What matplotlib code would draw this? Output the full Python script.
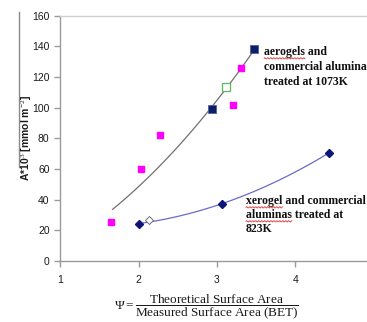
import numpy as np
import matplotlib
matplotlib.use("Agg")
import matplotlib.pyplot as plt

# ---- data ----
aero_navy_x = [2.94, 3.47]
aero_navy_y = [99.3, 138.0]
aero_green_x = [3.12]
aero_green_y = [113.7]
magenta_x = [1.65, 2.03, 2.28, 3.21, 3.31]
magenta_y = [25.5, 60.0, 82.0, 102.0, 126.0]
xero_x = [2.00, 3.07, 4.43]
xero_y = [24.4, 37.5, 70.6]
xero_open_x = [2.13]
xero_open_y = [26.8]
# trend line points
trend1_x = [1.67, 2.00, 2.45, 2.94, 3.47]
trend1_y = [32.7, 50.0, 72.0, 99.5, 138.0]
trend2_x = [2.00, 3.07, 4.43]
trend2_y = [24.4, 37.5, 70.6]

xticks = [1, 2, 3, 4]
yticks = [0, 20, 40, 60, 80, 100, 120, 140, 160]
label1 = ["aerogels and", "commercial aluminas", "treated at 1073K"]
label2 = ["xerogel and commercial", "aluminas treated at", "823K"]
ylabel = r"A*10$^{3}$ [mmol m$^{-2}$]"

plt.rcParams["mathtext.fontset"] = "custom"
plt.rcParams["mathtext.rm"] = "Liberation Serif"
plt.rcParams["mathtext.it"] = "Liberation Serif:italic"
plt.rcParams["font.family"] = ["Liberation Sans", "DejaVu Sans"]

W, H = 367, 322
fig = plt.figure(figsize=(W / 100, H / 100), dpi=100)
ax = fig.add_axes([60 / W, (H - 261) / H, (W - 60) / W, (261 - 15.7) / H])
ax.set_xlim(1, 1 + (W - 60) / 78.5)
ax.set_ylim(0, 160)

# trend curves
c1 = np.polyfit(trend1_x, trend1_y, 2)
xs1 = np.linspace(min(trend1_x), max(trend1_x), 100)
ax.plot(xs1, np.polyval(c1, xs1), color="#707070", lw=0.9, zorder=2)
c2 = np.polyfit(trend2_x, trend2_y, 2)
xs2 = np.linspace(min(trend2_x), max(trend2_x), 100)
ax.plot(xs2, np.polyval(c2, xs2), color="#6a6ac8", lw=0.9, zorder=2)

# markers
ax.plot(magenta_x, magenta_y, "s", color="#ff00ff", ms=5, mec="#ff00ff", ls="none", zorder=3)
ax.plot(aero_navy_x, aero_navy_y, "s", color="#0c1f66", ms=5.2, mec="#5060a0", mew=0.6, ls="none", zorder=3)
ax.plot(aero_green_x, aero_green_y, "s", color="white", ms=5.2, mec="#5cb85c", mew=0.9, ls="none", zorder=3)
ax.plot(xero_x, xero_y, "D", color="#0c1478", ms=4.2, mec="#0c1478", ls="none", zorder=3)
ax.plot(xero_open_x, xero_open_y, "D", color="white", ms=4.2, mec="#707070", mew=0.7, ls="none", zorder=3)

# axes styling
for s in ["left", "bottom"]:
    ax.spines[s].set_color("#9a9a9a")
    ax.spines[s].set_linewidth(1.0)
ax.spines["top"].set_color("#cfcfcf")
ax.spines["top"].set_linewidth(1.0)
ax.spines["right"].set_visible(False)
ax.set_xticks(xticks)
ax.set_yticks(yticks)
ax.tick_params(axis="both", colors="#9a9a9a", labelcolor="#1a1a1a", labelsize=7.5,
               length=4, width=1, direction="out")
ax.tick_params(axis="x", pad=6)

# y label
fig.text(26.5 / W, 1 - 138 / H, ylabel, rotation=90, ha="center", va="center",
         fontsize=7.5, fontweight="bold", color="#1a1a1a")
fig.add_artist(plt.Line2D([19.0 / W, 19.0 / W], [1 - 12 / H, 1 - 167 / H],
                          transform=fig.transFigure, color="#8a8a8a", lw=1.0))

# x label
fig.text(206 / W, 1 - 307 / H,
         r"$\Psi = \dfrac{\mathrm{Theoretical\ Surface\ Area}}{\mathrm{Measured\ Surface\ Area\ (BET)}}$",
         ha="center", va="center", fontsize=9.5, color="#1a1a1a")

TFONT = dict(fontsize=8.5, fontweight="bold", family=["Liberation Serif", "DejaVu Serif"])

def place_lines(lines, x, ys):
    texts = []
    for ln, yv in zip(lines, ys):
        t = ax.text(x, yv, ln, ha="left", va="center", color="#111111", zorder=4, **TFONT)
        texts.append(t)
    return texts

t1 = place_lines(label1, 3.60, [136.3, 126.5, 116.7])
t2 = place_lines(label2, 3.37, [39.1, 30.0, 20.9])

fig.canvas.draw()
renderer = fig.canvas.get_renderer()

def wavy_under(text_obj, word):
    tmp = ax.text(*text_obj.get_position(), word, ha="left", va="center", **TFONT)
    bb = tmp.get_window_extent(renderer)
    tmp.remove()
    xs = np.linspace(bb.x0, bb.x1, 60)
    ys = bb.y0 - 0.3 + 0.7 * np.sin((xs - bb.x0) / 1.5 * np.pi)
    inv = fig.transFigure.inverted()
    pts = inv.transform(np.column_stack([xs, ys]))
    fig.add_artist(plt.Line2D(pts[:, 0], pts[:, 1], transform=fig.transFigure,
                              color="#e03030", lw=0.6))

wavy_under(t1[0], "aerogels")
wavy_under(t2[0], "xerogel")
wavy_under(t2[1], "aluminas")

fig.savefig("out.png", dpi=100)
